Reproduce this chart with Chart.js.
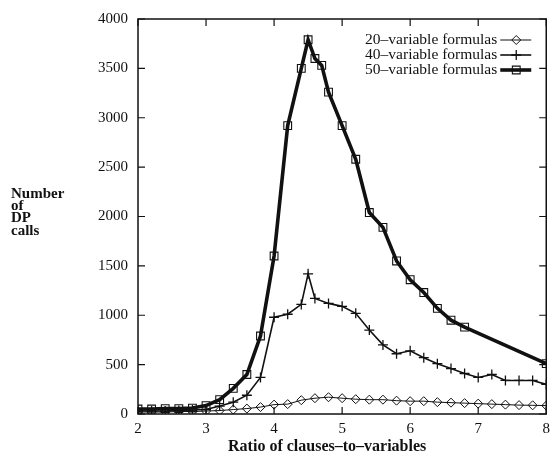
<!DOCTYPE html>
<html>
<head>
<meta charset="utf-8">
<script src="https://cdn.jsdelivr.net/npm/chart.js@4.4.0/dist/chart.umd.min.js"></script>
<style>
  html, body { margin: 0; padding: 0; background: #fff; }
  #wrap { width: 556px; height: 458px; }
</style>
</head>
<body>
<div id="wrap"><canvas id="myChart" width="556" height="458"></canvas></div>
<script>
// ratio values where each run set was sampled
const x20 = [2.0,2.2,2.4,2.6,2.8,3.0,3.2,3.4,3.6,3.8,4.0,4.2,4.4,4.6,4.8,5.0,5.2,5.4,5.6,5.8,6.0,6.2,6.4,6.6,6.8,7.0,7.2,7.4,7.6,7.8,8.0];
const y20 = [20,20,20,25,25,30,35,45,55,70,95,100,140,160,170,160,150,145,145,135,130,130,120,115,110,105,100,95,90,88,85];

const x40 = [2.0,2.2,2.4,2.6,2.8,3.0,3.2,3.4,3.6,3.8,4.0,4.2,4.4,4.5,4.6,4.8,5.0,5.2,5.4,5.6,5.8,6.0,6.2,6.4,6.6,6.8,7.0,7.2,7.4,7.6,7.8,8.0];
const y40 = [30,30,30,35,40,45,80,120,190,370,980,1010,1110,1420,1170,1120,1090,1020,850,700,610,640,570,510,460,410,370,400,340,340,340,300];

const x50 = [2.0,2.2,2.4,2.6,2.8,3.0,3.2,3.4,3.6,3.8,4.0,4.2,4.4,4.5,4.6,4.7,4.8,5.0,5.2,5.4,5.6,5.8,6.0,6.2,6.4,6.6,6.8,8.0];
const y50 = [50,50,55,55,60,85,145,260,400,790,1600,2920,3500,3790,3600,3530,3260,2920,2580,2040,1890,1550,1360,1230,1070,950,880,510];

const seriesNames = ["20\u2013variable formulas", "40\u2013variable formulas", "50\u2013variable formulas"];
const xTicks = [2,3,4,5,6,7,8];
const yTicks = [0,500,1000,1500,2000,2500,3000,3500,4000];
const xTitle = "Ratio of clauses\u2013to\u2013variables";
const yTitleLines = ["Number","of","DP","calls"];

const INK = '#111';
const SERIF = '"Liberation Serif", "DejaVu Serif", serif';

function pts(xs, ys){
  return xs.map((v,i)=>({x:v, y:ys[i]}));
}

// frame + inward ticks on all four sides, titles and legend
const framePlugin = {
  id: 'frame',
  afterDraw(chart){
    const ctx = chart.ctx, a = chart.chartArea;
    const xs = chart.scales.x, ys = chart.scales.y;
    ctx.save();
    ctx.strokeStyle = INK;
    ctx.lineWidth = 1.5;
    ctx.strokeRect(a.left, a.top, a.right - a.left, a.bottom - a.top);
    ctx.lineWidth = 1.2;
    ctx.beginPath();
    yTicks.forEach(v=>{
      const p = ys.getPixelForValue(v);
      ctx.moveTo(a.left, p); ctx.lineTo(a.left + 7, p);
      ctx.moveTo(a.right, p); ctx.lineTo(a.right - 7, p);
    });
    xTicks.forEach(v=>{
      const p = xs.getPixelForValue(v);
      ctx.moveTo(p, a.bottom); ctx.lineTo(p, a.bottom - 7);
      ctx.moveTo(p, a.top); ctx.lineTo(p, a.top + 7);
    });
    ctx.stroke();

    // y title, horizontal stacked words
    ctx.fillStyle = INK;
    ctx.font = 'bold 15px ' + SERIF;
    ctx.textAlign = 'left';
    ctx.textBaseline = 'alphabetic';
    yTitleLines.forEach((t,i)=>{
      ctx.fillText(t, 11, 198 + i*12.2);
    });

    // x title, sits a bit left of the plot centre like the original
    ctx.font = 'bold 16px ' + SERIF;
    ctx.textAlign = 'center';
    ctx.textBaseline = 'middle';
    ctx.fillText(xTitle, xs.getPixelForValue(4.78), 447);

    // legend in upper right
    ctx.font = '15.5px ' + SERIF;
    ctx.textAlign = 'right';
    ctx.textBaseline = 'middle';
    chart.data.datasets.forEach((ds,i)=>{
      const y = a.top + 21 + i*15;
      ctx.fillStyle = INK;
      ctx.fillText(ds.label, a.right - 49, y);
      ctx.strokeStyle = INK;
      ctx.lineWidth = ds.borderWidth;
      ctx.beginPath();
      ctx.moveTo(a.right - 46, y); ctx.lineTo(a.right - 15, y);
      ctx.stroke();
      ctx.fillStyle = 'rgba(0,0,0,0)';
      ctx.lineWidth = ds.pointBorderWidth;
      Chart.helpers.drawPoint(ctx, {
        pointStyle: ds.pointStyle, radius: ds.pointRadius, rotation: 0, borderWidth: ds.pointBorderWidth
      }, a.right - 30, y);
    });
    ctx.restore();
  }
};

const ctx = document.getElementById('myChart').getContext('2d');

const chartConfig = {
  type: 'line',
  data: {
    datasets: [{
      label: seriesNames[0],
      data: pts(x20, y20),
      borderColor: INK,
      borderWidth: 1,
      pointStyle: 'rectRot',
      pointRadius: 4.5,
      pointBorderWidth: 1,
      pointBorderColor: INK,
      pointBackgroundColor: 'rgba(0,0,0,0)',
      tension: 0,
      fill: false,
    },{
      label: seriesNames[1],
      data: pts(x40, y40),
      borderColor: INK,
      borderWidth: 1.6,
      pointStyle: 'cross',
      pointRadius: 5,
      pointBorderWidth: 1.3,
      pointBorderColor: INK,
      pointBackgroundColor: 'rgba(0,0,0,0)',
      tension: 0,
      fill: false,
    },{
      label: seriesNames[2],
      data: pts(x50, y50),
      borderColor: INK,
      borderWidth: 3.6,
      pointStyle: 'rect',
      pointRadius: 5.5,
      pointBorderWidth: 1.1,
      pointBorderColor: INK,
      pointBackgroundColor: 'rgba(0,0,0,0)',
      tension: 0,
      fill: false,
    }],
  },
  plugins: [framePlugin],
  options: {
    responsive: false,
    animation: false,
    layout: { padding: { top: 15, right: 4, left: 0, bottom: 0 } },
    plugins: {
      legend: { display: false },
      tooltip: { enabled: false },
    },
    scales: {
      x: {
        type: 'linear',
        min: 2, max: 8,
        afterFit: s => { s.height = 44; },
        afterBuildTicks: s => { s.ticks = xTicks.map(v=>({value:v})); },
        grid: { display: false, drawTicks: false },
        border: { display: false },
        ticks: { color: INK, font: { family: SERIF, size: 15 }, padding: 6, maxRotation: 0,
                 callback: v => String(v) },
      },
      y: {
        min: 0, max: 4000,
        afterFit: s => { s.width = 138; },
        afterBuildTicks: s => { s.ticks = yTicks.map(v=>({value:v})); },
        grid: { display: false, drawTicks: false },
        border: { display: false },
        ticks: { color: INK, font: { family: SERIF, size: 15 }, padding: 10,
                 callback: v => String(v) },
      },
    },
  },
};

const chart = new Chart(ctx, chartConfig);
</script>
</body>
</html>
